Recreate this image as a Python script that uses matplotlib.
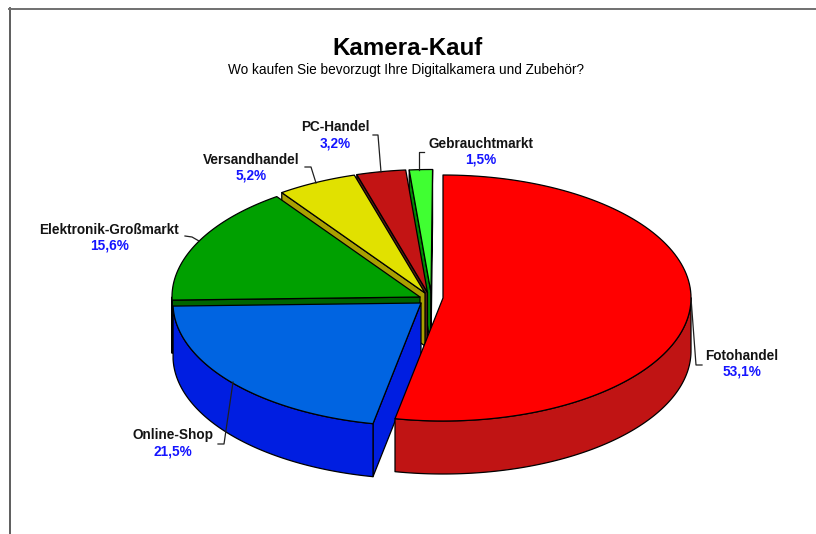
#!/usr/bin/env python3
# -*- coding: utf-8 -*-
"""
Exploded 3D pie chart, drawn in pixel coordinates of the figure.
"""

import numpy as np
import matplotlib
matplotlib.use("Agg")
import matplotlib.pyplot as plt
from matplotlib.patches import Polygon

plt.rcParams['font.family'] = ['Liberation Sans', 'DejaVu Sans']

# Data
categories = ["Fotohandel", "Online-Shop", "Elektronik-Großmarkt", "Versandhandel", "PC-Handel", "Gebrauchtmarkt"]
shares = [53.1, 21.5, 15.6, 5.2, 3.2, 1.5]
share_labels = ["53,1%", "21,5%", "15,6%", "5,2%", "3,2%", "1,5%"]
title = "Kamera-Kauf"
subtitle = "Wo kaufen Sie bevorzugt Ihre Digitalkamera und Zubehör?"

# Style and layout (pixels)
top_colors = ["#ff0000", "#0064e1", "#00a000", "#e1e100", "#c31414", "#40ff32"]
wall_colors = ["#c01414", "#001ee1", "#006400", "#aaa000", "#5a1e14", "#008c00"]
centers = [(443, 298), (421, 303), (420, 297), (425, 293), (427.5, 292.5), (431, 292.5)]
rx, ry, depth = 248, 123, 53
label_pos = [(742, 356), (173, 435), (109.5, 229.5), (251.5, 160), (335, 127), (481, 144)]
leaders = [
    [(691, 298), (696, 365), (702, 365)],
    [(233, 382), (224, 444), (218, 444)],
    [(185, 236), (192, 237), (199, 241)],
    [(305, 167), (311, 167), (316, 183)],
    [(373, 135), (378, 135), (381, 172)],
    [(424, 152), (419, 152), (419, 170)],
]


def rim(center, t0, t1, n=120):
    """Points on the top ellipse between angles t0 and t1 (degrees)."""
    t = np.radians(np.linspace(t0, t1, n))
    return np.column_stack((center[0] + rx * np.cos(t), center[1] - ry * np.sin(t)))


def draw_slice(ax, center, t_high, t_low, top, wall):
    edge = dict(edgecolor='black', linewidth=0.9, joinstyle='round')
    apex = np.array(center, dtype=float)
    down = np.array([0, depth])

    # radial walls, only the ones facing the viewer
    if np.cos(np.radians(t_high)) < -1e-9:
        p = rim(center, t_high, t_high, 1)[0]
        ax.add_patch(Polygon([apex, p, p + down, apex + down], facecolor=wall, **edge))
    if np.cos(np.radians(t_low)) > 1e-9:
        p = rim(center, t_low, t_low, 1)[0]
        ax.add_patch(Polygon([apex, p, p + down, apex + down], facecolor=wall, **edge))

    # outer wall, front half of the ellipse only
    for a, b in [(-180, 0), (-540, -360)]:
        lo, hi = max(t_low, a), min(t_high, b)
        if lo < hi:
            arc = rim(center, lo, hi)
            ax.add_patch(Polygon(np.vstack((arc, arc[::-1] + down)), facecolor=wall, **edge))

    # top face
    ax.add_patch(Polygon(np.vstack(([apex], rim(center, t_low, t_high))), facecolor=top, **edge))


fig = plt.figure(figsize=(8.16, 5.34), dpi=100, facecolor='white')
ax = fig.add_axes([0, 0, 1, 1])
ax.set_xlim(0, 816)
ax.set_ylim(534, 0)
ax.set_axis_off()

# chart frame, open to the right and the bottom
ax.plot([10, 10], [8, 534], color='#505050', lw=1.3)
ax.plot([9, 816], [9, 9], color='#707070', lw=1.4)

# slice angles, clockwise from the top
ends = 90 - np.cumsum(shares) * 3.6
starts = np.concatenate(([90], ends[:-1]))

# back to front
for i in [5, 4, 3, 2, 1, 0]:
    draw_slice(ax, centers[i], starts[i], ends[i], top_colors[i], wall_colors[i])

for name, value, pos, line in zip(categories, share_labels, label_pos, leaders):
    ax.text(pos[0], pos[1], name, ha='center', va='center', fontsize=9.8, fontweight='bold', color='#141414')
    ax.text(pos[0], pos[1] + 16, value, ha='center', va='center', fontsize=9.8, fontweight='bold', color='#1414ff')
    xs, ys = zip(*line)
    ax.plot(xs, ys, color='#202020', lw=0.9)

ax.text(407, 48.5, title, ha='center', va='center', fontsize=17.4, fontweight='bold', color='black')
ax.text(405.5, 70, subtitle, ha='center', va='center', fontsize=9.83, color='black')

fig.savefig("out.png", dpi=100)
